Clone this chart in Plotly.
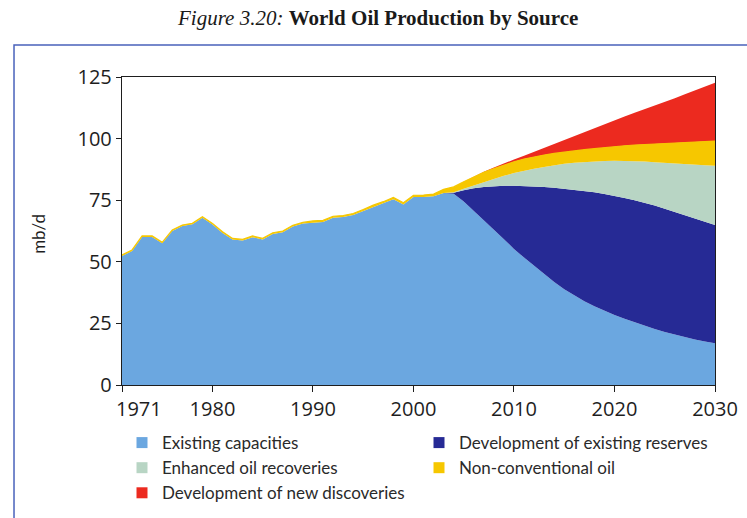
import plotly.graph_objects as go

# Years on the horizontal axis
years = list(range(1971, 2031))
proj_years = list(range(2003, 2031))

# World oil production by source, mb/d (stacked)
existing_capacities = [
    52.4, 54.4, 60.1, 60.1, 57.5, 62.5, 64.5, 65.2, 67.9, 65.1,
    61.7, 59.0, 58.6, 60.0, 59.0, 61.3, 62.0, 64.3, 65.5, 66.0,
    66.2, 67.9, 68.2, 69.0, 70.6, 72.4, 73.7, 75.4, 73.3, 76.3,
    76.3, 76.6,
    77.9, 77.6, 74.5, 70.8, 66.9, 63.0, 59.2, 55.2, 51.7, 48.3,
    44.9, 41.8, 38.9, 36.3, 34.0, 32.0, 30.1, 28.4, 26.9, 25.4,
    24.0, 22.7, 21.5, 20.4, 19.4, 18.5, 17.7, 16.9,
]
non_conventional = [
    0.4, 0.4, 0.4, 0.4, 0.4, 0.4, 0.4, 0.4, 0.4, 0.5,
    0.5, 0.5, 0.5, 0.5, 0.5, 0.5, 0.5, 0.5, 0.5, 0.6,
    0.6, 0.6, 0.6, 0.6, 0.6, 0.6, 0.7, 0.7, 0.7, 0.7,
    0.8, 0.9,
    1.5, 2.2, 2.9, 3.5, 3.9, 4.2, 4.4, 4.6, 4.7, 4.8,
    4.8, 4.8, 4.8, 4.9, 5.0, 5.2, 5.5, 5.8, 6.1, 6.5,
    6.9, 7.4, 7.9, 8.3, 8.8, 9.2, 9.6, 10.0,
]
existing_reserves = [
    0.0, 0.4, 4.5, 9.1, 13.5, 17.7, 21.7, 25.7, 29.1, 32.3,
    35.5, 38.3, 40.8, 43.0, 44.8, 46.2, 47.4, 48.4, 49.0, 49.6,
    50.0, 50.1, 50.0, 49.8, 49.5, 49.1, 48.6, 48.0,
]
enhanced_recovery = [
    0.0, 0.2, 0.6, 1.1, 2.0, 2.9, 4.0, 5.1, 6.2, 7.2,
    8.1, 9.1, 10.1, 10.9, 11.7, 12.5, 13.4, 14.2, 15.1, 15.9,
    16.7, 17.6, 18.6, 19.7, 20.7, 21.8, 22.9, 24.1,
]
new_discoveries = [
    0.0, 0.0, 0.0, 0.1, 0.2, 0.5, 0.7, 0.9, 1.3, 2.0,
    2.9, 3.9, 5.0, 6.2, 7.4, 8.6, 9.6, 10.7, 11.9, 13.1,
    14.3, 15.5, 16.8, 18.2, 19.6, 21.0, 22.4, 23.7,
]

x_ticks = [1971, 1980, 1990, 2000, 2010, 2020, 2030]
x_labels = ["1971", "1980", "1990", "2000", "2010", "2020", "2030"]
y_ticks = [0, 25, 50, 75, 100, 125]

series = [
    ("Existing capacities", years, existing_capacities, "#6ba7e0", 0),
    ("Development of existing reserves", proj_years, existing_reserves, "#262a95", 0),
    ("Enhanced oil recoveries", proj_years, enhanced_recovery, "#b8d5c4", 0),
    ("Non-conventional oil", years, non_conventional, "#f6c700", 1.2),
    ("Development of new discoveries", proj_years, new_discoveries, "#ec2a1f", 0),
]

SANS = "Lato, 'Open Sans', sans-serif"
TICK_FONT = "'Open Sans', Lato, sans-serif"
INK = "#1e1e1e"

fig = go.Figure()
for name, xs, ys, color, lw in series:
    fig.add_trace(go.Scatter(
        x=xs, y=ys, name=name, mode="lines",
        stackgroup="oil", stackgaps="infer zero",
        line=dict(width=lw, color=color), fillcolor=color,
        showlegend=False, hoverinfo="skip",
    ))

# Square legend keys
for name, xs, ys, color, lw in series:
    fig.add_trace(go.Scatter(
        x=[None], y=[None], name=name, mode="markers",
        marker=dict(symbol="square", size=11, color=color),
        showlegend=True,
    ))

# The first year label sits right of its tick, clear of the y-axis "0"
fig.update_xaxes(
    range=[1971, 2030], tickvals=x_ticks, ticktext=[""] + x_labels[1:],
    showgrid=False, zeroline=False,
    showline=True, linecolor=INK, linewidth=1.4, mirror=True,
    ticks="outside", ticklen=6, tickwidth=1.2, tickcolor=INK,
    tickfont=dict(family=TICK_FONT, size=20, color=INK),
)
fig.update_yaxes(
    range=[0, 125], tickvals=y_ticks,
    showgrid=False, zeroline=False,
    showline=True, linecolor=INK, linewidth=1.4, mirror=True,
    ticks="outside", ticklen=5, tickwidth=1.2, tickcolor=INK,
    tickfont=dict(family=TICK_FONT, size=20, color=INK),
)

fig.update_layout(
    width=747, height=518,
    margin=dict(l=122, r=32, t=77, b=133, autoexpand=False),
    paper_bgcolor="white", plot_bgcolor="white",
    legend=dict(
        orientation="h", traceorder="normal",
        x=0.0, y=-0.13, xanchor="left", yanchor="top",
        entrywidth=252, entrywidthmode="pixels",
        font=dict(family=SANS, size=17, color="#2a2a2a"),
        bgcolor="rgba(0,0,0,0)",
    ),
    annotations=[
        dict(
            text=x_labels[0], xref="x", yref="paper", x=x_ticks[0], y=0,
            xanchor="left", yanchor="top", xshift=-7, yshift=-9,
            showarrow=False, borderpad=0,
            font=dict(family=TICK_FONT, size=20, color=INK),
        ),
        dict(
            text="<i>Figure 3.20:</i> <b>World Oil Production by Source</b>",
            xref="paper", yref="paper", x=0.4317, y=1.19,
            xanchor="center", yanchor="middle", showarrow=False,
            font=dict(family="'Liberation Serif', serif", size=21, color="#1a1a1a"),
        ),
        dict(
            text="mb/d", xref="paper", yref="paper", x=-0.142, y=0.49,
            xanchor="center", yanchor="middle", textangle=-90, showarrow=False,
            font=dict(family=SANS, size=17, color=INK),
        ),
    ],
    shapes=[
        # page frame around the figure
        dict(type="path", xref="paper", yref="paper",
             path="M -0.1821 -0.46 L -0.1821 1.1039 L 1.08 1.1039",
             line=dict(color="#4a62bb", width=1.5)),
    ],
)

fig.write_html("out.html")
